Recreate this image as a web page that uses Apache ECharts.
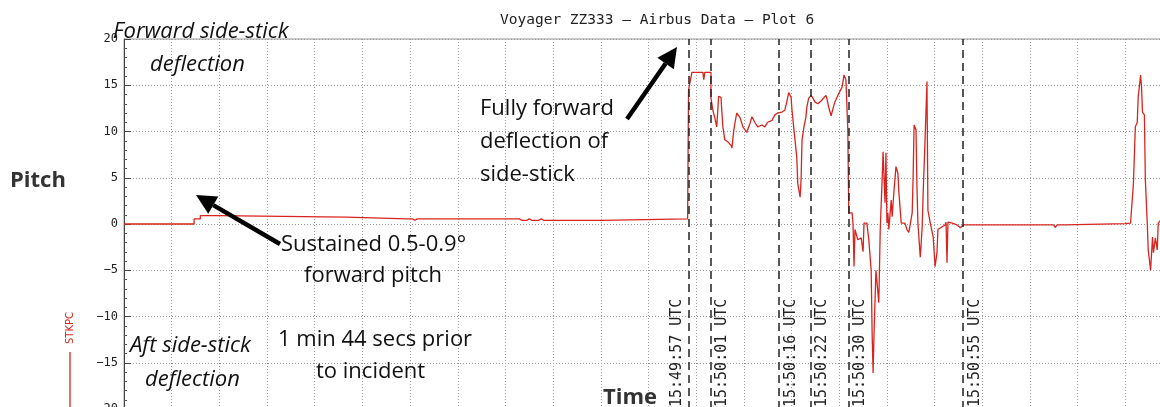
<!DOCTYPE html>
<html>
<head>
<meta charset="utf-8">
<script src="https://cdn.jsdelivr.net/npm/echarts@6/dist/echarts.min.js"></script>
<style>
  html, body { margin: 0; padding: 0; background: #fff; }
  #chart { width: 1160px; height: 407px; }
</style>
</head>
<body>
<div id="chart"></div>
<script>
// seconds from the left edge of the plot window (grid = 10 s)
const timeSec = [
  0, 14.7, 14.7, 16.0, 16.0, 19.9, 19.9, 46.6, 46.6, 59.4, 59.8, 60.5, 61.0, 61.5,
  82.9, 83.5, 84.5, 85.0, 85.5, 87.0, 87.5, 88.0, 90.3, 100.0, 100.0, 118.2,
  118.4, 118.8, 119.1, 121.4, 121.6, 121.8, 123.1, 123.1, 123.5, 123.9, 124.3, 124.5,
  124.7, 125.2, 125.4, 125.6, 126.0, 126.6, 127.3, 127.5, 127.9, 128.5, 129.2, 129.8,
  130.6, 131.3, 131.7, 132.3, 132.9, 133.8, 134.4, 135.0, 135.9, 136.5, 137.1, 138.0,
  138.6, 139.0, 139.4, 139.9, 140.1, 140.5, 141.1, 141.3, 141.8, 142.0, 142.2, 142.6,
  143.0, 143.2, 143.6, 144.1, 144.5, 144.9, 145.5, 146.2, 146.6, 147.2, 147.4, 147.8,
  148.3, 148.7, 149.1, 149.7, 150.6, 151.0, 151.4, 151.6, 151.8, 152.0, 152.7, 152.9,
  153.1, 153.3, 153.7, 153.9, 154.6, 155.0, 155.2, 155.8, 156.2, 156.7, 156.9, 157.1,
  157.3, 157.7, 157.9, 158.3, 158.6, 159.0, 159.2, 159.4, 159.6, 159.8, 160.0, 160.2,
  160.4, 160.9, 161.1, 161.5, 161.9, 162.3, 162.5, 163.0, 163.8, 164.2, 164.6, 165.3,
  165.5, 165.7, 166.1, 166.3, 166.5, 167.0, 167.4, 167.6, 168.0, 168.4, 168.6, 169.1,
  169.7, 170.1, 170.5, 170.7, 171.6, 172.2, 172.4, 172.6, 172.8, 173.7, 174.7, 175.4,
  176.0, 194.9, 195.3, 195.7, 197.2, 197.4, 197.6, 210.0, 211.1, 211.7, 212.1, 212.5,
  212.7, 213.2, 213.4, 213.6, 214.0, 214.2, 214.6, 214.8, 215.3, 215.7, 215.9, 216.3,
  216.7, 216.9, 217.4, 218.0
];
// STKPC, side-stick pitch (deg)
const pitch = [
  0, 0, 0.55, 0.55, 0.9, 0.9, 0.75, 0.75, 0.55, 0.55, 0.4, 0.55, 0.4, 0.55,
  0.55, 0.4, 0.4, 0.55, 0.4, 0.4, 0.55, 0.4, 0.4, 0.4, 0.55, 0.55,
  14.5, 14.5, 16.4, 16.4, 15.6, 16.4, 16.4, 13.6, 12.3, 11.5, 10.5, 12.0,
  13.8, 13.7, 12.0, 10.5, 9.1, 8.9, 8.5, 8.2, 10.2, 12.0, 11.5, 10.5,
  9.9, 10.9, 11.6, 11.0, 10.5, 10.7, 10.5, 11.0, 11.2, 11.8, 12.0, 12.1,
  12.3, 13.2, 14.2, 13.7, 12.3, 10.2, 7.2, 4.4, 2.9, 4.8, 9.1, 10.5,
  11.5, 12.6, 13.6, 13.9, 13.6, 13.2, 13.0, 13.3, 13.1, 13.9, 13.6, 12.6,
  11.7, 12.5, 13.2, 13.9, 14.8, 16.1, 15.6, 15.8, 10.2, 1.2, 1.2, -0.1,
  -4.6, -0.6, -0.4, -1.7, -1.5, -3.0, 0.1, 0.1, -1.7, -5.0, -11.8, -16.1,
  -11.8, -5.0, -5.0, -8.5, -0.6, 4.8, 7.8, 7.6, 2.3, 7.7, 0.1, 1.2,
  -0.6, 2.6, 0.8, 3.7, 6.2, 5.5, 3.5, 0.1, 0.1, -0.6, -0.9, 1.2,
  5.1, 10.7, 10.2, 4.0, 0.1, -3.6, -0.3, 3.3, 9.1, 15.4, 1.5, 0.1,
  -1.4, -4.6, -3.1, -0.6, -0.3, -0.1, 0.2, -4.2, 0.2, 0.1, -0.1, -0.4,
  -0.1, -0.1, -0.35, -0.1, -0.1, -0.3, -0.1, 0.05, 0.1, 4.4, 10.5, 11.0,
  13.7, 16.1, 14.8, 12.1, 11.8, 4.8, 0.1, -2.8, -5.0, -1.4, -3.1, -1.5,
  -2.8, 0.1, 0.4, 0.5
];
// event markers
const markerSec = [118.4, 123.1, 137.4, 144.1, 151.9, 176.0];
const markerLabels = ['15:49:57 UTC', '15:50:01 UTC', '15:50:16 UTC', '15:50:22 UTC', '15:50:30 UTC', '15:50:55 UTC'];
const yTicks = [-20, -15, -10, -5, 0, 5, 10, 15, 20];

let myChart = echarts.init(document.getElementById('chart'));

let seriesData = timeSec.map((t, i) => [t, pitch[i]]);
let markData = markerSec.map((t, i) => ({
  xAxis: t,
  name: markerLabels[i],
  label: { position: i === 0 ? 'insideStartTop' : 'insideStartBottom' }
}));

const noteFont = '"Open Sans", sans-serif';
function note(text, x, y, extra) {
  return {
    type: 'text', left: x, top: y - 11, z: 50,
    style: Object.assign({ text: text, font: '22px ' + noteFont, fill: '#111' }, extra || {})
  };
}
function arrow(x1, y1, x2, y2) {
  // shaft to the base of the head, then a filled head
  let dx = x2 - x1, dy = y2 - y1, len = Math.sqrt(dx * dx + dy * dy);
  let ux = dx / len, uy = dy / len, L = 20, W = 10;
  let bx = x2 - L * ux, by = y2 - L * uy;
  return [
    { type: 'line', z: 50, shape: { x1: x1, y1: y1, x2: bx, y2: by }, style: { stroke: '#000', lineWidth: 4.5 } },
    { type: 'polygon', z: 50, shape: { points: [[x2, y2], [bx - W * uy, by + W * ux], [bx + W * uy, by - W * ux]] }, style: { fill: '#000' } }
  ];
}

let options = {
  backgroundColor: '#fff',
  animation: false,
  title: {
    text: 'Voyager ZZ333 – Airbus Data – Plot 6',
    left: 495, top: 8,
    textStyle: { fontFamily: '"DejaVu Sans Mono", monospace', fontSize: 14.5, fontWeight: 'normal', color: '#222' }
  },
  grid: {
    left: 124, top: 39, right: -13, bottom: -2,
    outerBoundsMode: 'none', containLabel: false,
    show: true, borderColor: '#999', borderWidth: 1
  },
  xAxis: {
    type: 'value', min: 0, max: 220, interval: 10,
    axisLine: { show: false }, axisTick: { show: false }, axisLabel: { show: false },
    splitLine: { show: true, lineStyle: { color: '#9a9a9a', type: [1, 2], width: 1 } }
  },
  yAxis: {
    type: 'value', min: -20, max: 20, interval: 5,
    axisLine: { show: true, lineStyle: { color: '#444', width: 1 } },
    axisTick: { show: true, inside: true, length: 7, lineStyle: { color: '#444' } },
    minorTick: { show: true, splitNumber: 5, length: 3, lineStyle: { color: '#555' } },
    axisLabel: {
      margin: 6, color: '#222', fontFamily: '"DejaVu Sans Mono", monospace', fontSize: 12,
      formatter: v => (yTicks.includes(v) ? (v < 0 ? '−' + Math.abs(v) : String(v)) : '')
    },
    splitLine: { show: true, lineStyle: { color: '#9a9a9a', type: [1, 2], width: 1 } }
  },
  series: [{
    name: 'STKPC',
    type: 'line',
    data: seriesData,
    showSymbol: false,
    lineStyle: { color: '#d8241f', width: 1.3 },
    z: 3,
    markLine: {
      silent: true,
      symbol: 'none',
      lineStyle: { color: '#222', type: [8, 5], width: 1.5 },
      label: {
        show: true, formatter: '{b}', distance: [2, 4],
        color: '#222', fontFamily: '"DejaVu Sans Mono", monospace', fontSize: 15
      },
      data: markData
    }
  }],
  graphic: [
    note('Forward side-stick', 113, 32, { font: 'italic 22px ' + noteFont }),
    note('deflection', 150, 65, { font: 'italic 22px ' + noteFont }),
    note('Pitch', 10, 181, { font: 'bold 22px ' + noteFont, fill: '#333' }),
    note('Sustained 0.5-0.9°', 281, 245),
    note('forward pitch', 304, 276),
    note('1 min 44 secs prior', 278, 340),
    note('to incident', 316, 372),
    note('Aft side-stick', 130, 346, { font: 'italic 22px ' + noteFont }),
    note('deflection', 145, 380, { font: 'italic 22px ' + noteFont }),
    note('Fully forward', 480, 109),
    note('deflection of', 480, 142),
    note('side-stick', 480, 175),
    note('Time', 603, 398, { font: 'bold 22px ' + noteFont, fill: '#333' }),
    {
      type: 'text', x: 70, y: 328, rotation: Math.PI / 2, z: 50,
      style: { text: 'STKPC', font: '10px "DejaVu Sans", sans-serif', fill: '#d8241f', align: 'center', verticalAlign: 'middle' }
    },
    { type: 'line', z: 50, shape: { x1: 70, y1: 352, x2: 70, y2: 407 }, style: { stroke: '#d8241f', lineWidth: 1.3 } }
  ].concat(arrow(627, 119, 677, 47), arrow(280, 244, 196, 195))
};

myChart.setOption(options);
window.addEventListener('resize', () => {
  myChart.resize();
});
</script>
</body>
</html>
